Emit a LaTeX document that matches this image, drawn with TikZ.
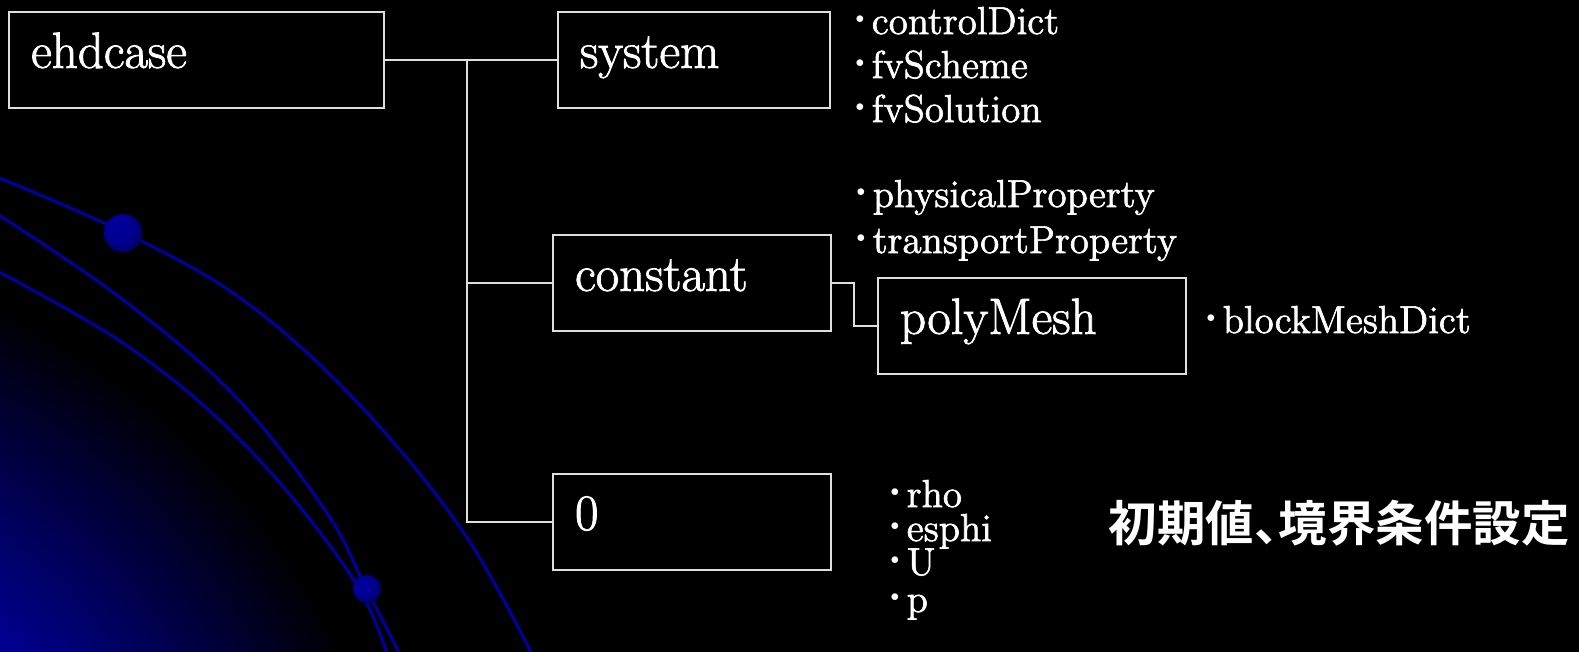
\documentclass[tikz,border=0pt]{standalone}
\usepackage{fontspec}
\usepackage{tikz}
\usetikzlibrary{calc}

\newfontfamily\labelfont{Latin Modern Roman}[FakeBold=1.6]
\newfontfamily\jpfont{Noto Sans CJK JP Bold}[RawFeature=+halt]

\definecolor{frame}{gray}{0.87}
\definecolor{arcblue}{RGB}{0,0,155}

\pgfdeclareradialshading{bluesphere}{\pgfpoint{-10bp}{10bp}}{rgb(0bp)=(0,0,0.62); rgb(16bp)=(0,0,0.58); rgb(30bp)=(0,0,0.42); rgb(50bp)=(0,0,0.22)}
% glow centred outside the corner, so its rings run almost straight across it
\pgfdeclareradialshading{cornerglow}{\pgfpointorigin}{rgb(0bp)=(0,0,0.58); rgb(15bp)=(0,0,0.56); rgb(24.7bp)=(0,0,0); rgb(50bp)=(0,0,0)}

\newcommand{\itemdot}{\raisebox{0.27em}{\scalebox{0.45}{$\bullet$}}\hspace{0.19em}}

\tikzset{
        dirbox/.style={draw=frame, line width=0.6pt, text=white, anchor=north west, align=left,
                inner xsep=0.22cm, inner ysep=0pt, minimum height=0.955cm,
                text height=0.68em, text depth=0.22em, font=\labelfont\fontsize{14.5}{17}\selectfont},
        fileitem/.style={text=white, anchor=base west, inner sep=0pt, font=\labelfont\fontsize{11.1}{13}\selectfont},
        link/.style={draw=frame, line width=0.6pt},
        orbit/.style={draw=arcblue, line width=0.9pt}
}

\begin{document}
\begin{tikzpicture}
        \useasboundingbox (0,0) rectangle (15.79,-6.51);
        \fill[black] (-0.2,0.2) rectangle (16,-6.7);

        % glow and orbits in the lower left corner
        \begin{scope}
                \clip (-0.2,0.2) rectangle (16,-6.7);
                \shade[shading=cornerglow] (-3,-9.51) circle (7.2);
                \draw[orbit] plot[smooth, tension=0.6] coordinates {(-0.2,-1.70) (1.23,-2.32) (2.43,-3.00) (3.57,-4.02) (4.64,-5.33) (5.40,-6.7)};
                \draw[orbit] plot[smooth, tension=0.6] coordinates {(-0.2,-2.03) (1.14,-2.93) (2.32,-3.93) (3.25,-5.10) (3.67,-5.90) (4.08,-6.7)};
                \draw[orbit] plot[smooth, tension=0.6] coordinates {(-0.2,-2.62) (1.29,-3.47) (2.50,-4.50) (3.54,-5.80) (3.92,-6.7)};
                \shade[shading=bluesphere] (1.23,-2.33) circle (0.19);
                \shade[shading=bluesphere] (3.67,-5.89) circle (0.14);
        \end{scope}

        \node[dirbox, text width=3.31cm] (ehdcase) at (0.08,-0.11) {ehdcase};
        \node[dirbox, text width=2.28cm] (system) at (5.57,-0.11) {system};
        \node[dirbox, text width=2.34cm] (constant) at (5.52,-2.34) {constant};
        \node[dirbox, text width=2.64cm] (polymesh) at (8.77,-2.77) {polyMesh};
        \node[dirbox, text width=2.34cm] (zero) at (5.52,-4.73) {0};

        \coordinate (trunk) at (4.67,0 |- ehdcase.east);
        \draw[link] (ehdcase.east) -- (system.west);
        \draw[link] (trunk) |- (zero.west);
        \draw[link] (trunk |- constant.west) -- (constant.west);
        \draw[link] (constant.east) -- ++(0.22,0) |- (polymesh.west);

        \node[fileitem] (ctrl) at (8.55,-0.34) {\itemdot controlDict};
        \node[fileitem] (scheme) at (8.55,-0.78) {\itemdot fvScheme};
        \node[fileitem] (solution) at (8.55,-1.22) {\itemdot fvSolution};

        \node[fileitem] (physprop) at (8.56,-2.07) {\itemdot physicalProperty};
        \node[fileitem] (transprop) at (8.56,-2.53) {\itemdot transportProperty};

        \node[fileitem] (blockdict) at (12.06,-3.33) {\itemdot blockMeshDict};

        \node[fileitem] (rho) at (8.90,-5.07) {\itemdot rho};
        \node[fileitem] (esphi) at (8.90,-5.41) {\itemdot esphi};
        \node[fileitem] (velocity) at (8.90,-5.75) {\itemdot U};
        \node[fileitem] (pressure) at (8.90,-6.12) {\itemdot p};

        \node[text=white, anchor=west, inner sep=0pt, font=\jpfont\fontsize{13.8}{16}\selectfont] (initbc) at (11.08,-5.23) {初期値、境界条件設定};
\end{tikzpicture}
\end{document}
